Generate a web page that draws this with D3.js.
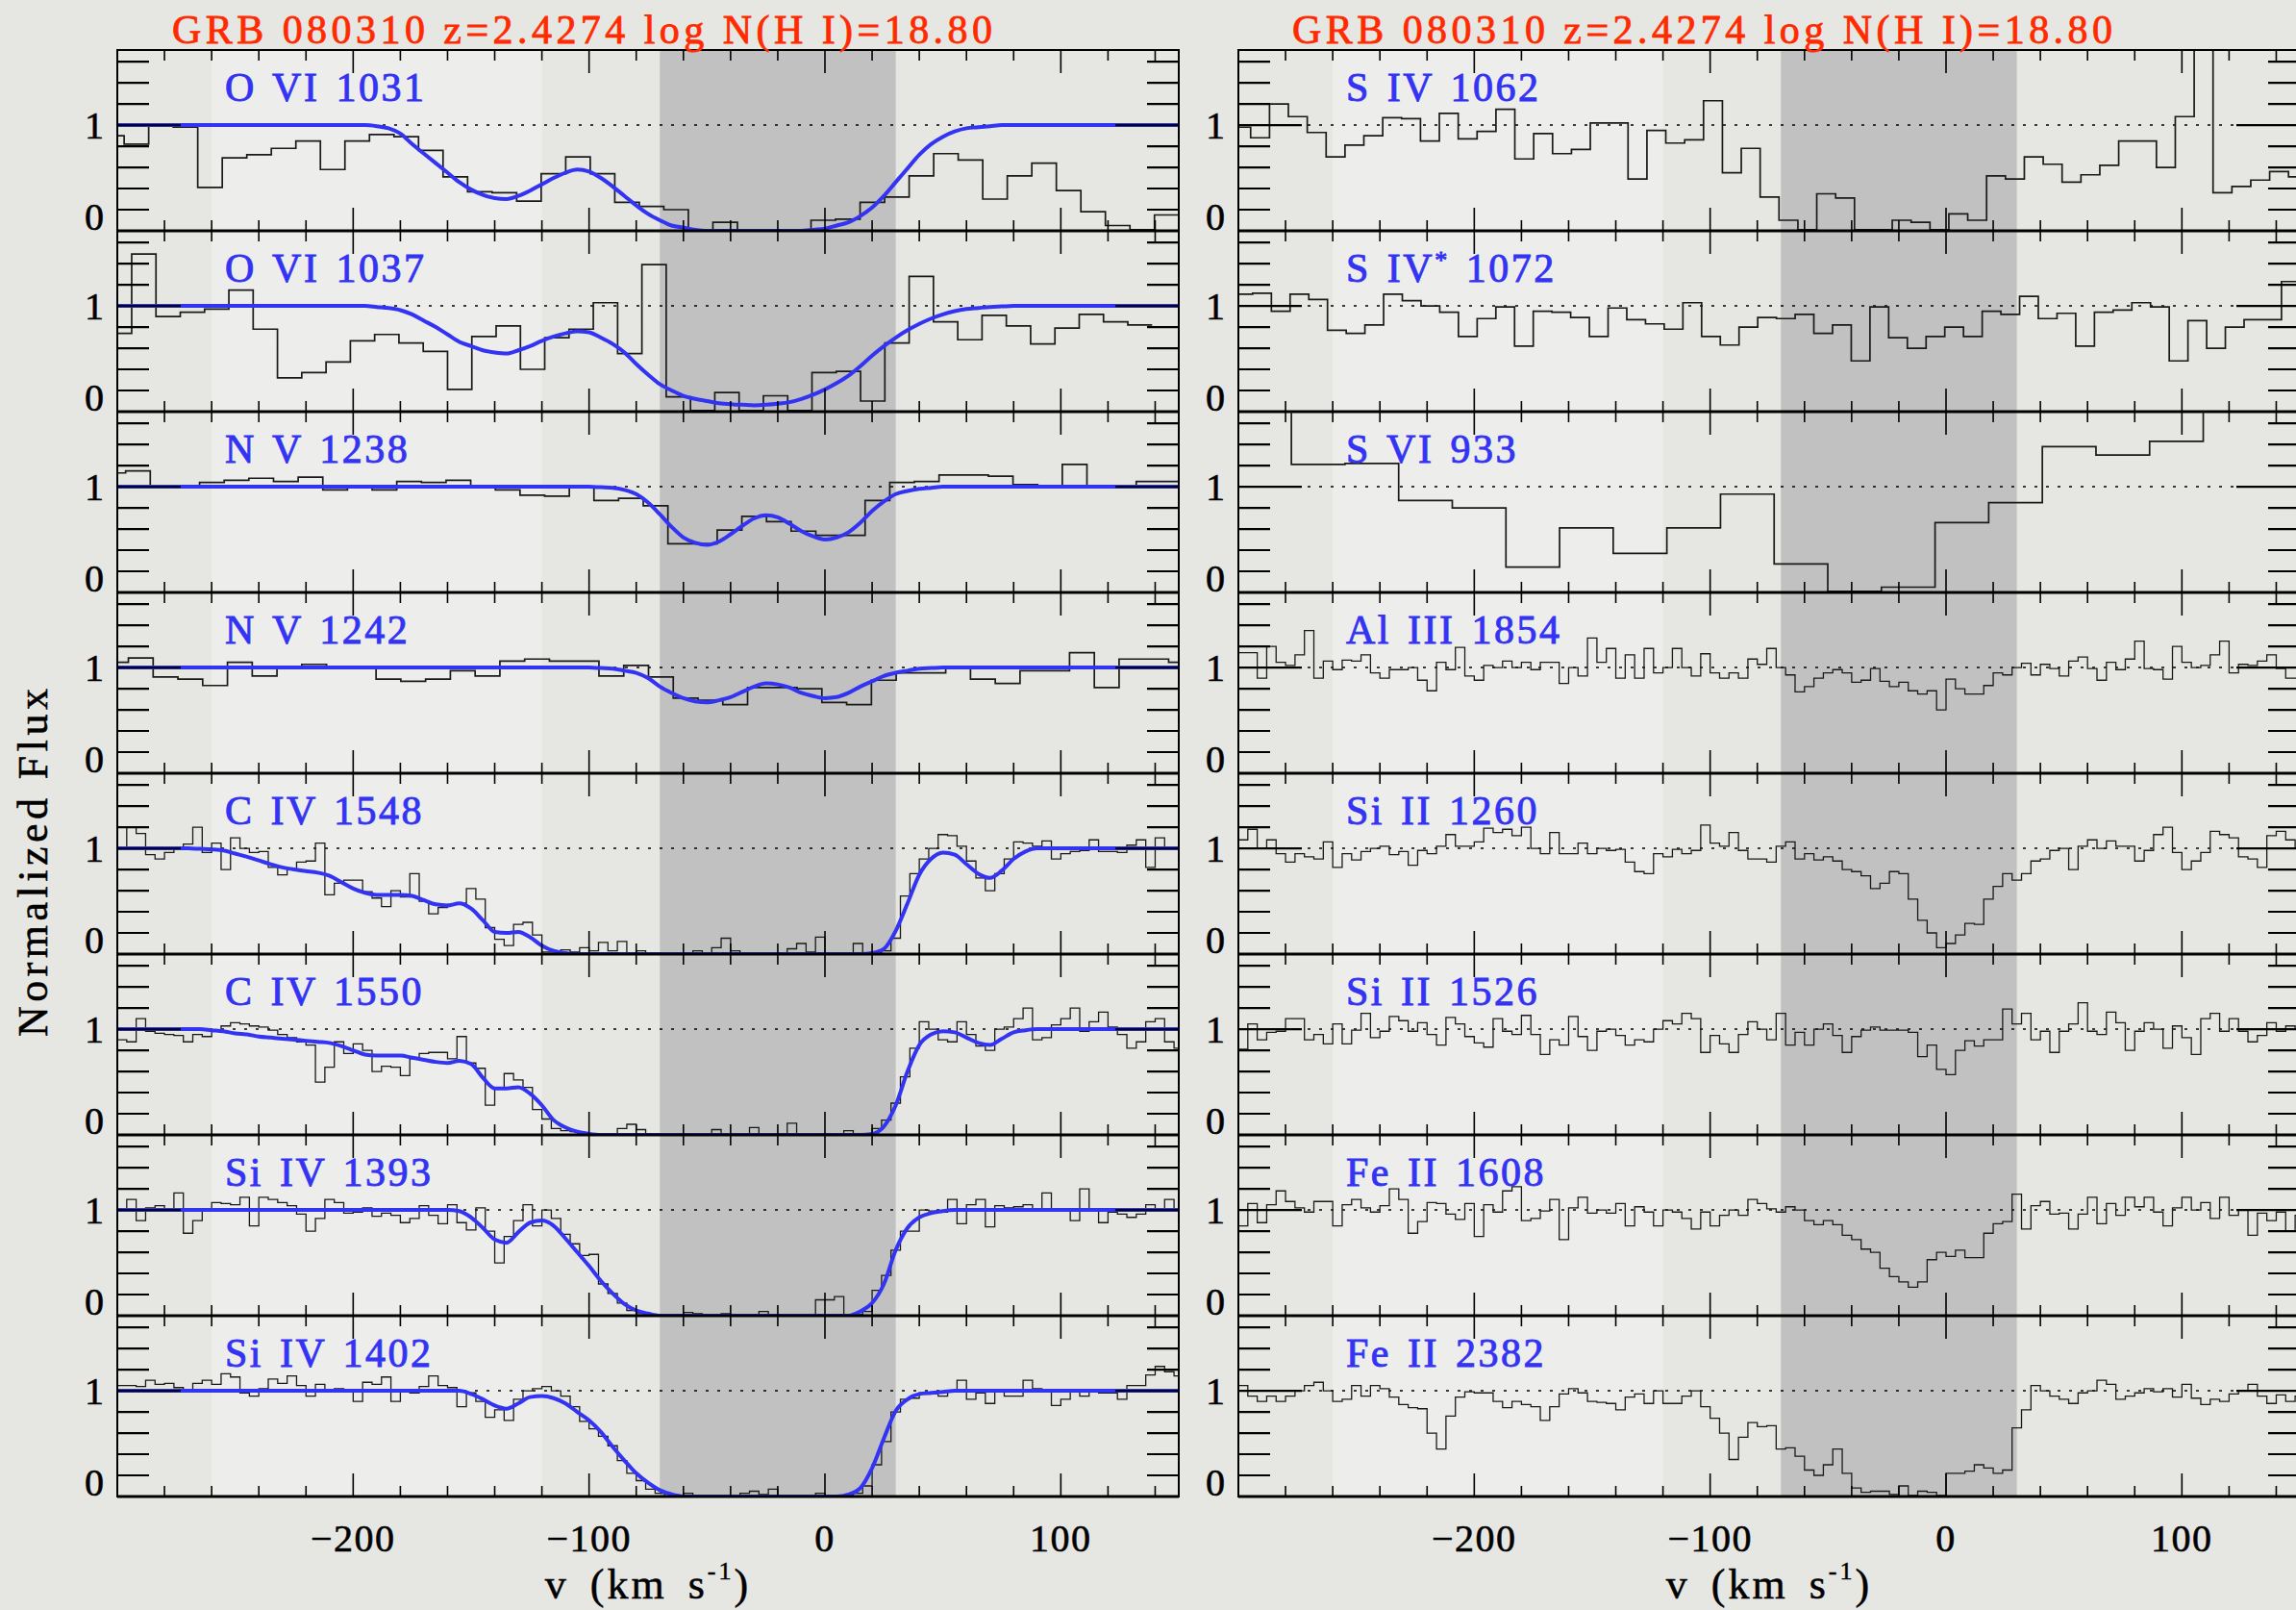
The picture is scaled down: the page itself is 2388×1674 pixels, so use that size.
<!DOCTYPE html>
<html>
<head>
<meta charset="utf-8">
<script src="https://cdn.jsdelivr.net/npm/d3@7"></script>
<style>
  body { margin: 0; background: #e6e6e2; }
  svg { display: block; }
  text { font-family: "Liberation Serif", "DejaVu Serif", serif; }
</style>
</head>
<body>
<svg id="chart" width="2388" height="1674"></svg>
<script>
// ---- data ---------------------------------------------------------------
var titleText = "GRB 080310 z=2.4274 log N(H I)=18.80";
var leftIons  = ["O VI 1031", "O VI 1037", "N V 1238", "N V 1242", "C IV 1548", "C IV 1550", "Si IV 1393", "Si IV 1402"];
var rightIons = ["S IV 1062", "S IV* 1072", "S VI 933", "Al III 1854", "Si II 1260", "Si II 1526", "Fe II 1608", "Fe II 2382"];

var velDomain  = [-300, 150];
var fluxDomain = [0, 1.71];
var xMajorTicks = [-200, -100, 0, 100];
var yTicks = [0.2, 0.4, 0.6, 0.8, 1.0, 1.2, 1.4, 1.6];
var bandLight = [-260, -120];
var bandDark  = [-70, 30];

// binned spectra: [first bin centre, bin width] in km/s, then fluxes
var binOVI1031 = [-302.3, 10.4];
var fluxOVI1031 = [0.90,0.82,1.00,0.98,0.41,0.69,0.72,0.78,0.85,0.58,
  0.85,0.91,0.89,0.76,0.51,0.37,0.36,0.28,0.54,0.70,
  0.54,0.27,0.23,0.20,0.01,0.08,0.01,0.01,0.01,0.10,
  0.11,0.27,0.32,0.52,0.73,0.67,0.30,0.52,0.64,0.38,
  0.18,0.05,0.01,0.15];
var binOVI1037 = [-299.05, 10.3];
var fluxOVI1037 = [0.74,1.49,0.90,0.94,0.97,1.15,0.78,0.32,0.37,0.47,
  0.67,0.73,0.65,0.57,0.21,0.71,0.81,0.40,0.70,0.78,
  1.03,0.55,1.39,0.14,0.01,0.18,0.01,0.15,0.01,0.37,
  0.38,0.10,0.65,1.28,0.85,0.68,0.91,0.81,0.64,0.79,
  0.92,0.85,0.82];
var binNV1238 = [-301.7, 10.45];
var fluxNV1238 = [1.13,1.15,0.99,0.99,1.04,1.06,1.08,1.05,1.09,0.97,
  1.01,0.97,1.05,1.04,1.06,0.99,0.97,0.92,0.91,0.99,
  0.87,0.89,0.82,0.46,0.46,0.59,0.72,0.67,0.58,0.54,
  0.54,0.87,1.04,1.05,1.11,1.11,1.10,1.02,0.99,1.21,
  0.99,0.99,1.05,1.05];
var binNV1242 = [-300.55, 10.5];
var fluxNV1242 = [1.05,1.09,0.91,0.89,0.83,1.05,0.92,1.00,1.03,0.99,
  1.00,0.89,0.87,0.89,0.97,0.92,1.06,1.08,1.06,1.06,
  0.92,1.02,0.91,0.71,0.69,0.65,0.81,0.81,0.80,0.67,
  0.65,0.88,0.95,0.95,1.00,0.89,0.85,0.97,0.97,1.14,
  0.81,1.08,1.08,1.05];
var binFine = [-298, 4];
var fluxCIV1548 = [1.0,1.2,1.14,0.94,0.9,0.96,1.0,1.04,1.2,0.96,
  1.05,0.8,1.1,1.0,0.96,0.97,0.82,0.75,0.8,0.87,
  0.88,1.05,0.56,0.67,0.7,0.7,0.59,0.53,0.45,0.6,
  0.54,0.76,0.5,0.38,0.44,0.47,0.48,0.62,0.52,0.25,
  0.14,0.08,0.28,0.3,0.18,0.02,0.02,0.04,0.02,0.06,
  0.03,0.11,0.03,0.12,0.0,0.03,0.0,0.0,0.0,0.0,
  0.0,0.03,0.0,0.06,0.15,0.03,0.0,0.0,0.0,0.0,
  0.0,0.05,0.1,0.02,0.16,0.0,0.0,0.0,0.1,0.0,
  0.01,0.03,0.15,0.55,0.76,0.9,1.0,1.13,1.12,1.02,
  0.88,0.72,0.6,0.76,0.9,1.06,1.05,1.02,1.07,0.9,
  0.95,0.97,0.98,1.08,0.97,0.97,0.96,1.03,1.08,0.82,
  1.1,1.0,0.99];
var fluxCIV1550 = [0.9,0.88,1.1,0.98,0.96,0.95,0.94,0.88,0.95,0.93,
  0.99,1.03,1.06,1.05,1.03,1.02,0.99,0.95,0.92,0.88,
  0.85,0.5,0.64,0.88,0.77,0.86,0.8,0.6,0.65,0.64,
  0.56,0.72,0.77,0.78,0.78,0.72,0.93,0.68,0.63,0.28,
  0.45,0.58,0.52,0.45,0.24,0.15,0.06,0.04,0.03,0.0,
  0.01,0.0,0.0,0.06,0.1,0.05,0.0,0.0,0.0,0.0,
  0.0,0.0,0.0,0.05,0.0,0.0,0.0,0.07,0.0,0.0,
  0.0,0.11,0.0,0.0,0.0,0.0,0.0,0.04,0.0,0.0,
  0.06,0.14,0.3,0.55,0.82,1.07,1.0,0.9,0.88,1.07,
  0.95,0.84,0.8,1.0,1.02,1.1,1.2,0.9,0.92,1.04,
  1.1,1.2,0.98,1.07,1.16,1.02,0.95,0.82,0.88,1.07,
  1.1,0.88,0.82];
var fluxSiIV1393 = [1.0,1.1,0.9,1.02,1.04,1.0,1.16,0.78,0.9,1.0,
  1.07,1.06,1.05,1.12,0.85,1.12,1.1,1.07,1.04,0.96,
  0.8,0.92,1.1,1.07,0.97,0.98,1.02,0.94,0.97,0.95,
  0.88,0.92,1.04,0.95,0.87,1.05,0.88,0.81,1.02,0.8,
  0.5,0.75,0.9,1.05,0.85,1.0,0.92,0.77,0.68,0.57,
  0.58,0.3,0.21,0.12,0.05,0.02,0.01,0.0,0.0,0.0,
  0.03,0.02,0.0,0.0,0.02,0.0,0.0,0.0,0.04,0.0,
  0.0,0.0,0.0,0.0,0.15,0.15,0.18,0.01,0.01,0.04,
  0.24,0.38,0.62,0.8,0.8,1.0,0.99,0.98,1.1,0.87,
  1.05,1.1,0.84,1.04,1.02,1.03,1.05,1.0,1.16,1.0,
  0.99,0.9,1.2,1.0,0.88,0.98,0.96,0.93,0.96,1.05,
  1.0,1.1,0.99];
var fluxSiIV1402 = [1.05,1.05,1.04,1.1,1.06,1.07,1.03,0.99,1.07,1.1,
  1.06,1.16,1.13,0.98,0.95,1.02,1.11,1.07,1.14,1.05,
  0.95,1.06,1.0,1.02,1.0,0.9,1.08,1.06,1.13,0.9,
  1.0,0.98,1.04,1.14,1.05,1.03,0.85,0.98,0.9,0.75,
  0.82,0.72,0.92,1.0,1.02,1.04,1.0,0.95,0.85,0.71,
  0.64,0.57,0.48,0.34,0.22,0.15,0.07,0.03,0.0,0.0,
  0.03,0.01,0.0,0.0,0.0,0.0,0.03,0.05,0.02,0.07,
  0.0,0.0,0.0,0.0,0.03,0.0,0.0,0.01,0.03,0.1,
  0.3,0.52,0.8,0.92,0.93,0.98,0.97,0.95,1.0,1.1,
  0.92,0.98,0.88,1.0,0.95,0.95,1.1,1.02,0.99,0.86,
  0.92,1.0,0.95,1.0,0.98,0.98,0.92,1.05,1.05,1.15,
  1.23,1.18,1.14];

var binSIV1062 = [-298.8, 8.0];
var fluxSIV1062 = [0.98,0.88,1.20,1.08,0.93,0.70,0.81,0.90,1.07,1.06,
  0.85,1.11,0.87,0.94,1.15,0.68,0.92,0.73,0.77,1.02,
  1.02,0.49,0.95,0.83,0.86,1.23,0.55,0.78,0.32,0.10,
  0.01,0.35,0.31,0.01,0.01,0.10,0.08,0.01,0.16,0.10,
  0.52,0.49,0.70,0.63,0.46,0.53,0.62,0.85,0.85,0.60,
  1.08,1.85,0.36,0.42,0.48,0.56,0.51];
var binSIV1072 = [-297.9, 7.93];
var fluxSIV1072 = [1.11,1.12,0.95,1.11,1.06,0.77,0.74,0.82,1.11,1.05,
  1.00,0.94,0.71,0.88,0.99,0.62,0.95,0.94,0.89,0.71,
  0.98,0.87,0.83,0.78,1.03,0.71,0.63,0.80,0.89,0.88,
  0.92,0.74,0.82,0.48,0.99,0.70,0.60,0.71,0.80,0.71,
  0.95,0.92,1.09,0.88,0.93,0.62,0.94,0.96,1.03,0.99,
  0.48,0.86,0.60,0.80,0.87,0.87,1.23];
var binSVI933 = [-288.9, 22.74];
var fluxSVI933 = [1.85,1.21,1.22,0.87,0.80,0.24,0.61,0.37,0.61,0.93,
  0.27,0.01,0.05,0.66,0.85,1.38,1.30,1.43,1.85,1.85];
var fluxAlIII1854 = [1.14,1.14,0.9,1.2,1.05,1.02,1.12,1.35,0.9,1.06,
  0.98,1.07,1.06,1.12,0.95,0.9,0.98,0.98,1.0,0.88,
  0.78,1.05,0.98,1.19,0.92,0.88,1.02,1.0,1.06,1.0,
  1.05,0.98,1.05,1.05,0.85,1.0,0.92,1.28,1.05,1.18,
  0.9,1.12,0.9,1.18,0.95,1.0,1.18,1.0,0.92,1.13,
  0.95,0.9,0.95,0.9,1.08,1.03,1.18,1.0,0.93,0.77,
  0.82,0.9,0.95,0.98,0.95,0.86,0.88,0.99,0.87,0.82,
  0.86,0.78,0.75,0.78,0.6,0.89,0.8,0.75,0.75,0.83,
  0.95,0.93,1.0,1.04,0.93,1.03,0.99,0.92,1.06,1.1,
  0.99,0.88,1.05,0.98,1.08,1.25,0.99,0.98,0.89,1.2,
  1.05,1.0,1.02,1.12,1.25,0.95,1.03,1.02,1.06,1.12,
  0.99,0.9,0.9];
var fluxSiII1260 = [1.08,1.18,1.0,1.08,0.95,0.87,0.95,0.92,0.9,1.06,
  0.82,0.95,0.89,0.97,1.0,1.02,0.94,0.97,0.84,0.98,
  0.95,1.02,1.13,1.02,1.02,1.06,1.19,1.15,1.18,1.12,
  1.2,1.0,0.95,1.15,0.95,0.95,1.05,0.95,1.0,0.98,
  0.99,0.87,0.78,0.76,0.95,0.92,0.99,0.95,0.98,1.22,
  1.05,1.02,1.15,0.98,0.9,0.9,0.87,1.02,1.06,0.9,
  0.95,0.89,0.92,0.88,0.8,0.78,0.74,0.62,0.67,0.78,
  0.76,0.52,0.32,0.2,0.06,0.1,0.18,0.29,0.28,0.52,
  0.64,0.76,0.7,0.76,0.88,0.9,0.98,1.0,0.8,1.02,
  1.08,1.0,1.07,1.02,1.02,0.88,0.98,1.13,1.2,0.96,
  0.8,0.88,0.96,1.16,1.13,1.1,0.92,0.9,0.82,1.12,
  1.16,1.08,1.0];
var fluxSiII1526 = [0.81,1.05,0.9,0.97,0.98,1.1,1.1,0.9,0.95,0.86,
  1.05,0.86,0.99,1.15,0.92,0.98,1.12,1.08,0.98,1.06,
  0.95,0.85,1.11,1.05,0.93,0.87,0.83,1.1,0.98,0.95,
  1.13,0.95,0.76,0.9,0.85,1.12,0.93,0.8,0.98,1.0,
  0.94,0.85,0.9,0.88,1.0,1.08,1.05,1.15,1.1,0.78,
  0.94,0.86,0.78,0.95,1.07,1.0,0.9,1.15,0.85,0.97,
  0.85,1.0,1.05,0.94,0.78,0.93,0.99,1.02,0.99,0.99,
  0.99,0.97,0.74,0.85,0.62,0.57,0.8,0.89,0.84,0.9,
  0.9,1.19,1.05,1.15,0.9,0.98,0.78,0.98,1.05,1.25,
  0.98,0.95,1.16,1.06,0.8,0.98,1.06,1.0,0.82,1.03,
  0.92,0.76,1.1,1.15,0.98,1.1,0.98,0.88,0.94,1.06,
  0.98,1.03,1.0];
var fluxFeII1608 = [0.85,1.06,0.88,1.05,1.18,1.08,1.02,0.98,1.08,1.08,
  0.85,1.05,1.1,1.02,0.98,1.04,1.2,1.1,0.78,0.89,
  1.07,1.06,0.96,0.91,1.06,0.75,1.05,0.98,1.18,1.22,
  0.9,0.92,0.99,1.1,0.72,1.02,1.12,0.97,1.0,0.97,
  1.06,0.85,1.03,0.98,0.85,1.0,0.98,0.92,0.82,0.98,
  0.85,0.95,1.0,0.95,1.1,1.06,1.01,0.98,1.03,1.0,
  0.9,0.86,0.9,0.86,0.76,0.72,0.63,0.6,0.45,0.37,
  0.32,0.27,0.32,0.53,0.6,0.56,0.62,0.55,0.55,0.78,
  0.87,0.89,1.15,0.82,1.04,1.08,0.96,0.97,0.82,0.96,
  1.12,0.87,1.06,0.95,1.12,1.03,1.12,0.98,0.85,1.02,
  1.12,1.0,1.07,0.92,1.12,0.95,1.0,0.76,0.97,0.9,
  0.98,0.8,0.95];
var fluxFeII2382 = [1.05,0.95,0.9,0.95,0.9,0.95,1.0,1.05,1.08,1.0,
  0.9,0.92,1.05,0.95,1.05,1.02,0.94,0.87,0.84,0.83,
  0.6,0.45,0.76,0.94,0.99,0.98,0.98,0.9,0.84,0.9,
  0.87,0.85,0.72,0.85,0.97,1.02,0.98,0.9,0.89,0.88,
  0.82,0.94,0.97,0.88,1.0,0.88,0.88,0.95,1.0,0.85,
  0.74,0.6,0.35,0.56,0.7,0.66,0.67,0.45,0.46,0.38,
  0.25,0.2,0.3,0.45,0.22,0.08,0.04,0.05,0.05,0.02,
  0.1,0.01,0.05,0.04,0.01,0.22,0.22,0.24,0.3,0.27,
  0.22,0.25,0.65,0.82,1.05,1.0,0.95,0.92,0.88,0.98,
  1.0,1.1,1.06,0.92,0.95,0.98,1.02,0.99,1.02,0.94,
  1.06,0.93,0.87,0.92,0.9,0.97,1.0,1.06,0.95,0.88,
  0.96,0.9,0.95];

// Voigt-profile fits (blue), sampled every 5 km/s from -300 to 150
var modelVel = d3.range(-300, 151, 5);
var modelOVI1031 = [1,1,1,1,1,1,1,1,1,1,1,1,1,1,1,1,1,1,1,1,1,1,
  0.99,0.97,0.92,0.82,0.73,0.64,0.55,0.46,0.39,0.34,0.31,0.30,0.33,0.38,
  0.44,0.50,0.55,0.58,0.56,0.50,0.42,0.33,0.24,0.16,0.10,0.05,0.03,0.01,
  0,0,0,0,0,0,0,0,0,
  0.01,0.02,0.05,0.08,0.14,0.22,0.33,0.46,0.59,0.72,0.82,0.89,0.94,0.97,0.98,0.99,
  1,1,1,1,1,1,1,1,1,1,1,1,1,1,1,1];
var modelOVI1037 = [1,1,1,1,1,1,1,1,1,1,1,1,1,1,1,1,1,1,1,1,1,1,
  0.99,0.98,0.96,0.92,0.86,0.80,0.73,0.66,0.62,0.58,0.56,0.55,0.58,0.62,
  0.67,0.71,0.74,0.76,0.75,0.70,0.64,0.56,0.45,0.35,0.26,0.20,0.15,0.12,
  0.10,0.08,0.07,0.065,0.06,0.065,0.075,0.09,0.12,0.16,0.21,0.27,0.34,0.43,
  0.53,0.62,0.70,0.77,0.83,0.88,0.92,0.95,0.97,0.98,0.99,0.995,
  1,1,1,1,1,1,1,1,1,1,1,1,1,1,1];
var modelNV1238 = [1,1,1,1,1,1,1,1,1,1,1,1,1,1,1,1,1,1,1,1,1,1,1,1,1,1,1,1,1,1,1,1,1,1,1,1,1,1,1,1,1,
  0.995,0.99,0.97,0.93,0.85,0.74,0.62,0.52,0.47,0.45,0.48,0.55,0.63,0.70,0.73,
  0.71,0.65,0.58,0.53,0.50,0.52,0.57,0.66,0.77,0.86,0.93,0.96,0.98,0.99,
  1,1,1,1,1,1,1,1,1,1,1,1,1,1,1,1,1,1,1,1,1];
var modelNV1242 = [1,1,1,1,1,1,1,1,1,1,1,1,1,1,1,1,1,1,1,1,1,1,1,1,1,1,1,1,1,1,1,1,1,1,1,1,1,1,1,1,1,
  0.995,0.99,0.97,0.95,0.90,0.82,0.76,0.71,0.68,0.67,0.69,0.72,0.77,0.82,0.85,
  0.84,0.81,0.76,0.73,0.71,0.72,0.76,0.82,0.87,0.92,0.95,0.97,0.99,0.995,
  1,1,1,1,1,1,1,1,1,1,1,1,1,1,1,1,1,1,1,1,1];
var modelCIV1548 = [1,1,1,1,1,1,1,
  0.995,0.99,0.98,0.95,0.92,0.885,0.85,0.82,0.80,0.785,0.77,0.74,0.68,0.62,0.58,0.56,
  0.56,0.56,0.55,0.51,0.47,0.46,0.48,0.43,0.32,0.21,0.20,0.21,0.16,0.08,0.03,0.01,
  0,0,0,0,0,0,0,0,0,0,0,0,0,0,0,0,0,0,0,0,0,0,0,0,0,
  0.01,0.05,0.22,0.48,0.75,0.90,0.96,0.94,0.85,0.76,0.72,0.79,0.90,0.97,
  1,1,1,1,1,1,1,1,1,1,1,1,1];
var modelCIV1550 = [1,1,1,1,1,1,1,1,
  0.99,0.98,0.96,0.95,0.93,0.92,0.91,0.90,0.89,0.88,0.87,0.84,0.80,0.76,0.75,0.75,
  0.75,0.73,0.71,0.69,0.68,0.70,0.67,0.54,0.44,0.44,0.45,0.39,0.28,0.14,0.07,0.03,0.01,
  0,0,0,0,0,0,0,0,0,0,0,0,0,0,0,0,0,0,0,0,0,0,0,
  0.01,0.08,0.28,0.60,0.85,0.95,0.98,0.97,0.92,0.87,0.85,0.91,0.97,0.99,
  1,1,1,1,1,1,1,1,1,1,1,1,1];
var modelSiIV1393 = [1,1,1,1,1,1,1,1,1,1,1,1,1,1,1,1,1,1,1,1,1,1,1,1,1,1,1,1,1,
  0.99,0.93,0.83,0.72,0.69,0.79,0.88,0.90,0.85,0.73,0.60,0.47,0.33,0.21,0.11,0.05,0.02,
  0,0,0,0,0,0,0,0,0,0,0,0,0,0,0,0,0,
  0.04,0.12,0.30,0.62,0.83,0.93,0.97,0.99,
  1,1,1,1,1,1,1,1,1,1,1,1,1,1,1,1,1,1,1,1];
var modelSiIV1402 = [1,1,1,1,1,1,1,1,1,1,1,1,1,1,1,1,1,1,1,1,1,1,1,1,1,1,1,1,1,1,
  0.97,0.92,0.86,0.83,0.88,0.94,0.95,0.93,0.88,0.80,0.72,0.61,0.47,0.34,0.22,0.13,0.06,0.02,
  0,0,0,0,0,0,0,0,0,0,0,0,0,0,
  0.02,0.08,0.27,0.55,0.81,0.92,0.97,0.98,0.99,
  1,1,1,1,1,1,1,1,1,1,1,1,1,1,1,1,1,1,1,1];

// ---- layout --------------------------------------------------------------
var colLeft = [122, 1288], colWidth = 1104;
var top0 = 52, rowH = 188, nRows = 8;
var blue = "#3333f4", red = "#ff2a00";

var leftPanels = [
  [binOVI1031, fluxOVI1031, modelOVI1031],
  [binOVI1037, fluxOVI1037, modelOVI1037],
  [binNV1238, fluxNV1238, modelNV1238],
  [binNV1242, fluxNV1242, modelNV1242],
  [binFine, fluxCIV1548, modelCIV1548],
  [binFine, fluxCIV1550, modelCIV1550],
  [binFine, fluxSiIV1393, modelSiIV1393],
  [binFine, fluxSiIV1402, modelSiIV1402]
];
var rightPanels = [
  [binSIV1062, fluxSIV1062, null],
  [binSIV1072, fluxSIV1072, null],
  [binSVI933, fluxSVI933, null],
  [binFine, fluxAlIII1854, null],
  [binFine, fluxSiII1260, null],
  [binFine, fluxSiII1526, null],
  [binFine, fluxFeII1608, null],
  [binFine, fluxFeII2382, null]
];

var svg = d3.select("#chart");
var defs = svg.append("defs");

function drawColumn(ci, panels, ions) {
  var x = d3.scaleLinear().domain(velDomain).range([colLeft[ci], colLeft[ci] + colWidth]);
  var g = svg.append("g").attr("class", "column");
  var yTop = top0, yBot = top0 + nRows * rowH;

  // shaded velocity intervals
  g.append("rect").attr("x", x(bandLight[0])).attr("y", yTop)
    .attr("width", x(bandLight[1]) - x(bandLight[0])).attr("height", yBot - yTop)
    .attr("fill", "#ededeb");
  g.append("rect").attr("x", x(bandDark[0])).attr("y", yTop)
    .attr("width", x(bandDark[1]) - x(bandDark[0])).attr("height", yBot - yTop)
    .attr("fill", "#c1c1c1");

  panels.forEach(function(p, r) {
    var rowTop = top0 + r * rowH, rowBot = rowTop + rowH;
    var y = d3.scaleLinear().domain(fluxDomain).range([rowBot, rowTop]);
    var clipId = "clip" + ci + "_" + r;
    defs.append("clipPath").attr("id", clipId).append("rect")
      .attr("x", colLeft[ci]).attr("y", rowTop).attr("width", colWidth).attr("height", rowH);
    var pg = g.append("g");
    var inner = pg.append("g").attr("clip-path", "url(#" + clipId + ")");

    // continuum
    inner.append("line").attr("x1", x(velDomain[0])).attr("x2", x(velDomain[1]))
      .attr("y1", y(1)).attr("y2", y(1))
      .attr("stroke", "#000").attr("stroke-width", 1.6).attr("stroke-dasharray", "3,9");

    // histogram spectrum
    var v0 = p[0][0], dv = p[0][1];
    var steps = [];
    p[1].forEach(function(f, i) {
      var c = v0 + i * dv;
      steps.push([c - dv / 2, f], [c + dv / 2, f]);
    });
    var line = d3.line().x(function(d) { return x(d[0]); }).y(function(d) { return y(d[1]); });
    inner.append("path").datum(steps).attr("d", line)
      .attr("fill", "none").attr("stroke", "#1a1a1a").attr("stroke-width", dv < 5 ? 1.3 : 1.7)
      .attr("stroke-linejoin", "miter");

    // model
    if (p[2]) {
      var mline = d3.line().curve(d3.curveMonotoneX)
        .x(function(d, i) { return x(modelVel[i]); }).y(function(d) { return y(d); });
      inner.append("path").datum(p[2]).attr("d", mline)
        .attr("fill", "none").attr("stroke", blue).attr("stroke-width", 4);
    }

    // x ticks on top and bottom of each panel
    d3.range(-280, 150, 20).forEach(function(v) {
      var len = xMajorTicks.indexOf(v) >= 0 ? 24 : 11;
      pg.append("line").attr("x1", x(v)).attr("x2", x(v)).attr("y1", rowBot).attr("y2", rowBot - len)
        .attr("stroke", "#000").attr("stroke-width", 1.6);
      pg.append("line").attr("x1", x(v)).attr("x2", x(v)).attr("y1", rowTop).attr("y2", rowTop + len)
        .attr("stroke", "#000").attr("stroke-width", 1.6);
    });
    // y ticks both sides
    yTicks.forEach(function(t) {
      var len = Math.abs(t - 1) < 1e-6 ? 66 : 33;
      pg.append("line").attr("x1", x(velDomain[0])).attr("x2", x(velDomain[0]) + len)
        .attr("y1", y(t)).attr("y2", y(t)).attr("stroke", "#000").attr("stroke-width", 2.2);
      pg.append("line").attr("x1", x(velDomain[1])).attr("x2", x(velDomain[1]) - len)
        .attr("y1", y(t)).attr("y2", y(t)).attr("stroke", "#000").attr("stroke-width", 2.2);
    });
    // panel baseline (flux 0)
    pg.append("line").attr("x1", x(velDomain[0])).attr("x2", x(velDomain[1]))
      .attr("y1", rowBot).attr("y2", rowBot).attr("stroke", "#000").attr("stroke-width", 2.8);

    // y labels
    pg.append("text").attr("x", x(velDomain[0]) - 14).attr("y", y(1)).attr("dy", "0.35em")
      .attr("text-anchor", "end").attr("font-size", 40)
      .attr("stroke", "#000").attr("stroke-width", 0.6).text("1");
    pg.append("text").attr("x", x(velDomain[0]) - 14).attr("y", rowBot - 1)
      .attr("text-anchor", "end").attr("font-size", 40)
      .attr("stroke", "#000").attr("stroke-width", 0.6).text("0");

    // ion label
    var lab = pg.append("text").attr("x", x(velDomain[0]) + 112).attr("y", rowTop + 53)
      .attr("font-size", 42).attr("fill", blue).attr("stroke", blue).attr("stroke-width", 0.9)
      .attr("letter-spacing", 2.5).attr("word-spacing", 4);
    var name = ions[r];
    if (name.indexOf("*") >= 0) {
      var parts = name.split("*");
      lab.append("tspan").text(parts[0]);
      lab.append("tspan").attr("font-size", 26).attr("dy", -14).text("*");
      lab.append("tspan").attr("dy", 14).text(parts[1]);
    } else {
      lab.text(name);
    }
  });

  // outer frame
  g.append("rect").attr("x", colLeft[ci]).attr("y", yTop).attr("width", colWidth).attr("height", yBot - yTop)
    .attr("fill", "none").attr("stroke", "#000").attr("stroke-width", 2);

  // x tick labels under bottom panel
  xMajorTicks.forEach(function(v) {
    g.append("text").attr("x", x(v)).attr("y", 1613).attr("text-anchor", "middle")
      .attr("font-size", 40).attr("letter-spacing", 1.5)
      .attr("stroke", "#000").attr("stroke-width", 0.6).text(d3.format("d")(v));
  });
  // axis title
  var xt = g.append("text").attr("x", x(velDomain[0]) + colWidth / 2).attr("y", 1662)
    .attr("text-anchor", "middle").attr("font-size", 44).attr("letter-spacing", 3).attr("word-spacing", 8)
    .attr("stroke", "#000").attr("stroke-width", 0.5);
  xt.append("tspan").text("v (km s");
  xt.append("tspan").attr("font-size", 26).attr("dy", -20).text("-1");
  xt.append("tspan").attr("dy", 20).text(")");

  // title
  svg.append("text").attr("x", ci === 0 ? 179 : 1344).attr("y", 45)
    .attr("font-size", 42).attr("fill", red).attr("stroke", red).attr("stroke-width", 0.8)
    .attr("textLength", 853).attr("lengthAdjust", "spacing").text(titleText);
}

drawColumn(0, leftPanels, leftIons);
drawColumn(1, rightPanels, rightIons);

svg.append("text").attr("transform", "translate(49,897) rotate(-90)")
  .attr("text-anchor", "middle").attr("font-size", 44)
  .attr("stroke", "#000").attr("stroke-width", 0.5)
  .attr("textLength", 362).attr("lengthAdjust", "spacing").text("Normalized Flux");
</script>
</body>
</html>
